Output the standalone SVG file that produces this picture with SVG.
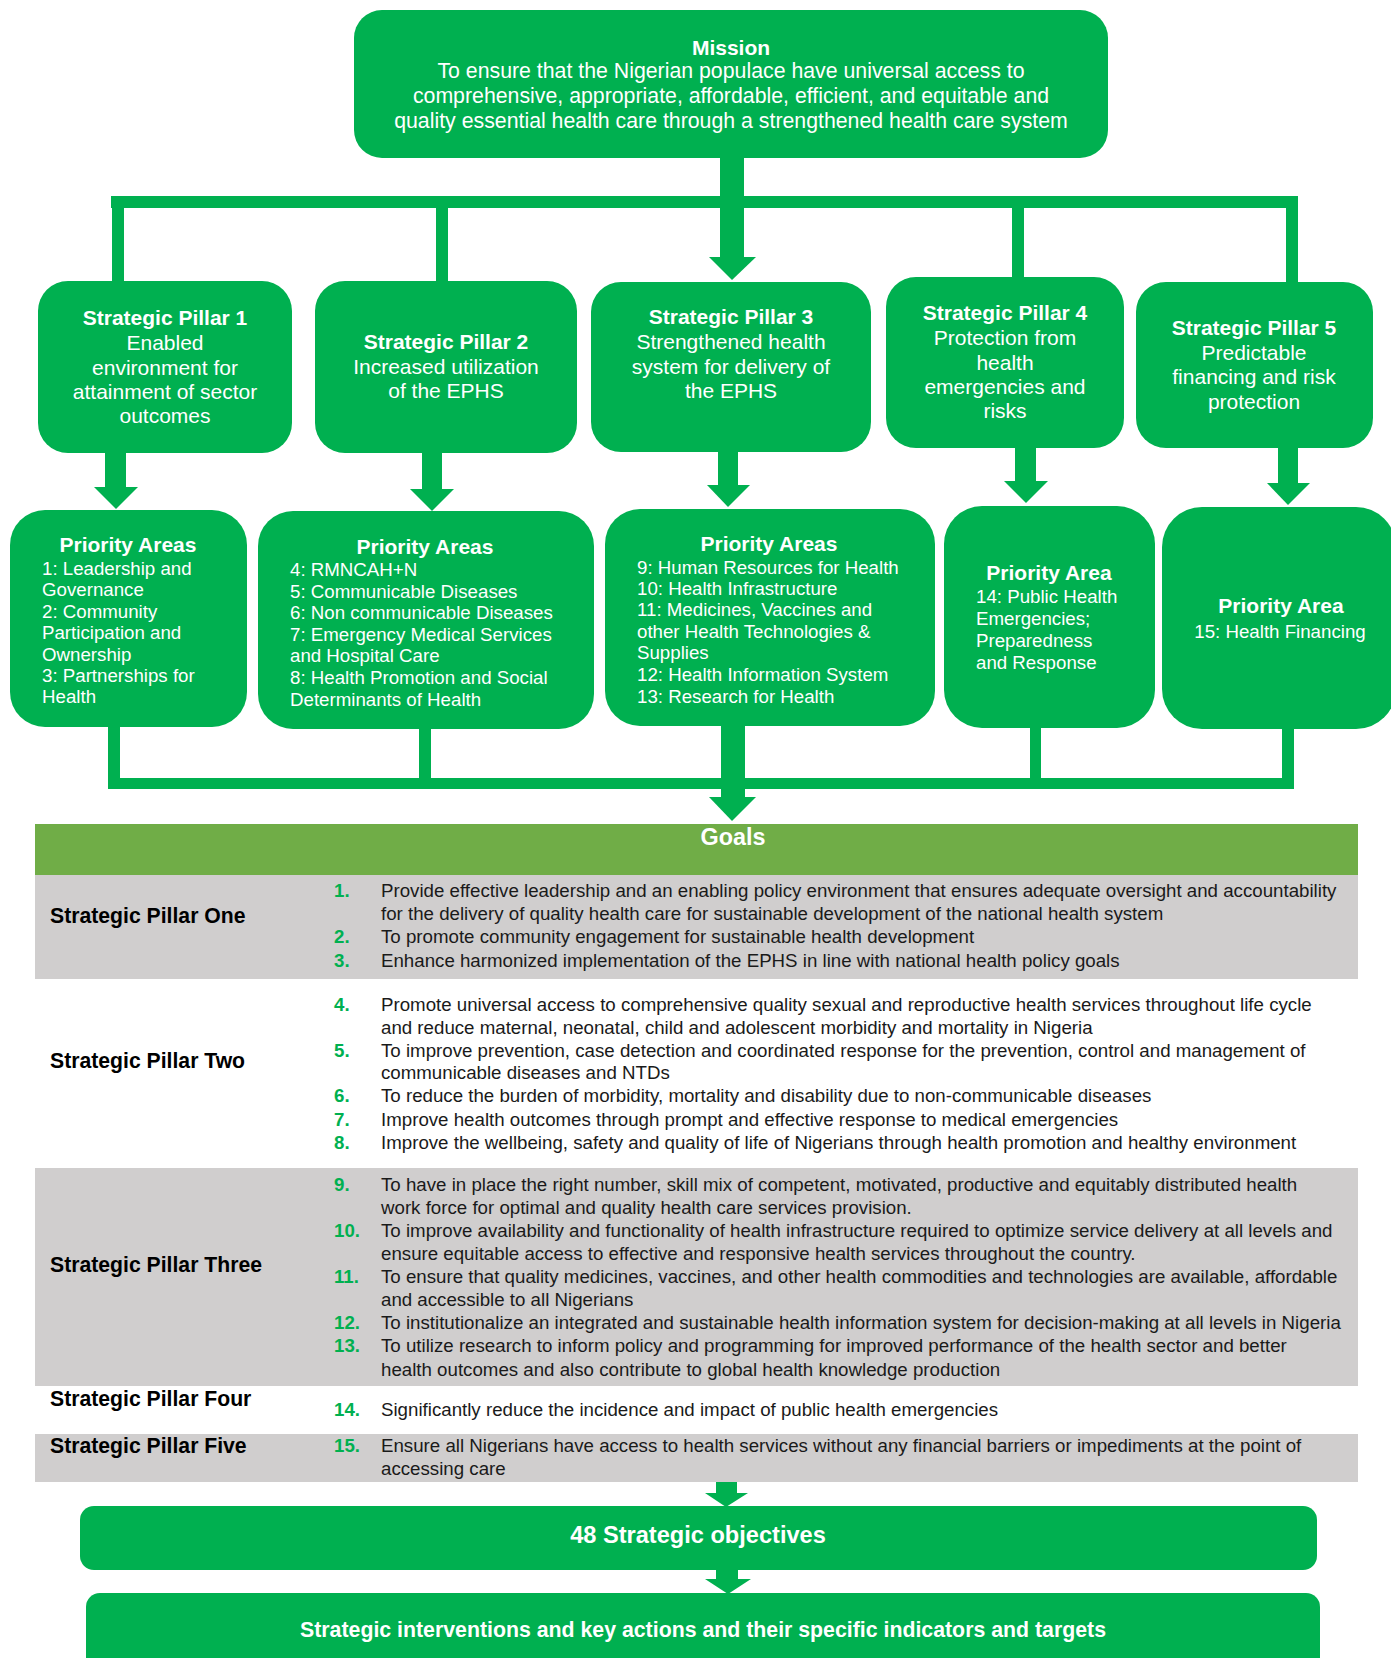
<svg xmlns="http://www.w3.org/2000/svg" width="1391" height="1658" viewBox="0 0 1391 1658">
<style>
  text { font-family: "Liberation Sans", Arial, sans-serif; }
  .box { fill: #00B050; }
  .con { fill: #00B050; }
  .w { fill: #ffffff; }
  .c { text-anchor: middle; }
  .h { font-size: 21px; font-weight: bold; }
  .n { font-size: 21px; }
  .m { font-size: 21.3px; }
  .s { font-size: 18.7px; }
  .num { fill: #00B050; font-size: 18.7px; font-weight: bold; }
  .gt { fill: #1a1a1a; font-size: 18.7px; }
  .pl { fill: #000000; font-size: 21.2px; font-weight: bold; }
  .gray { fill: #D0CECE; }
</style>

<!-- Connectors -->
<g id="connectors">
  <!-- top bracket -->
  <rect class="con" x="111" y="196" width="1187" height="12"/>
  <rect class="con" x="112" y="196" width="12" height="87"/>
  <rect class="con" x="436" y="196" width="12" height="87"/>
  <rect class="con" x="1012" y="196" width="12" height="83"/>
  <rect class="con" x="1286" y="196" width="12" height="88"/>
  <rect class="con" x="720" y="156" width="24" height="102"/>
  <polygon class="con" points="709,257 756,257 732,280"/>
  <!-- pillar to priority arrows -->
  <rect class="con" x="105" y="451" width="21" height="37"/>
  <polygon class="con" points="94,487 138,487 116,509"/>
  <rect class="con" x="422" y="451" width="20" height="39"/>
  <polygon class="con" points="410,489 454,489 432,511"/>
  <rect class="con" x="718" y="450" width="20" height="36"/>
  <polygon class="con" points="707,485 750,485 728,507"/>
  <rect class="con" x="1015" y="446" width="21" height="36"/>
  <polygon class="con" points="1004,481 1048,481 1026,503"/>
  <rect class="con" x="1278" y="446" width="20" height="38"/>
  <polygon class="con" points="1267,483 1310,483 1288,505"/>
  <!-- bottom bracket -->
  <rect class="con" x="108" y="778" width="1186" height="11"/>
  <rect class="con" x="108" y="725" width="12" height="64"/>
  <rect class="con" x="419" y="727" width="12" height="52"/>
  <rect class="con" x="1030" y="726" width="11" height="63"/>
  <rect class="con" x="1282" y="727" width="12" height="62"/>
  <rect class="con" x="721" y="724" width="24" height="74"/>
  <polygon class="con" points="709,797 756,797 732,821"/>
  <!-- table to objectives -->
  <rect class="con" x="716" y="1481" width="21" height="13"/>
  <polygon class="con" points="705,1493 748,1493 726,1507"/>
  <!-- objectives to interventions -->
  <rect class="con" x="716" y="1568" width="22" height="12"/>
  <polygon class="con" points="705,1579 751,1579 728,1594"/>
</g>

<!-- Mission -->
<g id="mission">
  <rect class="box" x="354" y="10" width="754" height="148" rx="28"/>
  <text class="w c h" x="731" y="55">Mission</text>
  <text class="w c m" x="731" y="78">To ensure that the Nigerian populace have universal access to</text>
  <text class="w c m" x="731" y="103">comprehensive, appropriate, affordable, efficient, and equitable and</text>
  <text class="w c m" x="731" y="128">quality essential health care through a strengthened health care system</text>
</g>

<!-- Pillars -->
<g id="pillar1">
  <rect class="box" x="38" y="281" width="254" height="172" rx="30"/>
  <text class="w c h" x="165" y="325">Strategic Pillar 1</text>
  <text class="w c n" x="165" y="350">Enabled</text>
  <text class="w c n" x="165" y="375">environment for</text>
  <text class="w c n" x="165" y="399">attainment of sector</text>
  <text class="w c n" x="165" y="423">outcomes</text>
</g>
<g id="pillar2">
  <rect class="box" x="315" y="281" width="262" height="172" rx="30"/>
  <text class="w c h" x="446" y="349">Strategic Pillar 2</text>
  <text class="w c n" x="446" y="374">Increased utilization</text>
  <text class="w c n" x="446" y="398">of the EPHS</text>
</g>
<g id="pillar3">
  <rect class="box" x="591" y="282" width="280" height="170" rx="30"/>
  <text class="w c h" x="731" y="324">Strategic Pillar 3</text>
  <text class="w c n" x="731" y="349">Strengthened health</text>
  <text class="w c n" x="731" y="374">system for delivery of</text>
  <text class="w c n" x="731" y="398">the EPHS</text>
</g>
<g id="pillar4">
  <rect class="box" x="886" y="277" width="238" height="171" rx="30"/>
  <text class="w c h" x="1005" y="320">Strategic Pillar 4</text>
  <text class="w c n" x="1005" y="345">Protection from</text>
  <text class="w c n" x="1005" y="370">health</text>
  <text class="w c n" x="1005" y="394">emergencies and</text>
  <text class="w c n" x="1005" y="418">risks</text>
</g>
<g id="pillar5">
  <rect class="box" x="1136" y="282" width="237" height="166" rx="30"/>
  <text class="w c h" x="1254" y="335">Strategic Pillar 5</text>
  <text class="w c n" x="1254" y="360">Predictable</text>
  <text class="w c n" x="1254" y="384">financing and risk</text>
  <text class="w c n" x="1254" y="409">protection</text>
</g>

<!-- Priority areas -->
<g id="priority1">
  <rect class="box" x="10" y="510" width="237" height="217" rx="35"/>
  <text class="w c h" x="128" y="552">Priority Areas</text>
  <text class="w s" x="42" y="575">1: Leadership and</text>
  <text class="w s" x="42" y="596">Governance</text>
  <text class="w s" x="42" y="618">2: Community</text>
  <text class="w s" x="42" y="639">Participation and</text>
  <text class="w s" x="42" y="661">Ownership</text>
  <text class="w s" x="42" y="682">3: Partnerships for</text>
  <text class="w s" x="42" y="703">Health</text>
</g>
<g id="priority2">
  <rect class="box" x="258" y="511" width="336" height="218" rx="35"/>
  <text class="w c h" x="425" y="554">Priority Areas</text>
  <text class="w s" x="290" y="576">4: RMNCAH+N</text>
  <text class="w s" x="290" y="598">5: Communicable Diseases</text>
  <text class="w s" x="290" y="619">6: Non communicable Diseases</text>
  <text class="w s" x="290" y="641">7: Emergency Medical Services</text>
  <text class="w s" x="290" y="662">and Hospital Care</text>
  <text class="w s" x="290" y="684">8: Health Promotion and Social</text>
  <text class="w s" x="290" y="706">Determinants of Health</text>
</g>
<g id="priority3">
  <rect class="box" x="605" y="509" width="330" height="217" rx="35"/>
  <text class="w c h" x="769" y="551">Priority Areas</text>
  <text class="w s" x="637" y="574">9: Human Resources for Health</text>
  <text class="w s" x="637" y="595">10: Health Infrastructure</text>
  <text class="w s" x="637" y="616">11: Medicines, Vaccines and</text>
  <text class="w s" x="637" y="638">other Health Technologies &amp;</text>
  <text class="w s" x="637" y="659">Supplies</text>
  <text class="w s" x="637" y="681">12: Health Information System</text>
  <text class="w s" x="637" y="703">13: Research for Health</text>
</g>
<g id="priority4">
  <rect class="box" x="944" y="506" width="211" height="222" rx="38"/>
  <text class="w c h" x="1049" y="580">Priority Area</text>
  <text class="w s" x="976" y="603">14: Public Health</text>
  <text class="w s" x="976" y="625">Emergencies;</text>
  <text class="w s" x="976" y="647">Preparedness</text>
  <text class="w s" x="976" y="669">and Response</text>
</g>
<g id="priority5">
  <rect class="box" x="1162" y="507" width="234" height="222" rx="40"/>
  <text class="w c h" x="1281" y="613">Priority Area</text>
  <text class="w c s" x="1280" y="638">15: Health Financing</text>
</g>

<!-- Goals table -->
<g id="goals">
  <rect x="35" y="824" width="1323" height="51" fill="#70AD47"/>
  <text class="w c" x="733" y="845" font-size="23.4" font-weight="bold">Goals</text>
  <rect class="gray" x="35" y="875" width="1323" height="104"/>
  <rect class="gray" x="35" y="1168" width="1323" height="218"/>
  <rect class="gray" x="35" y="1434" width="1323" height="48"/>

  <text class="pl" x="50" y="923">Strategic Pillar One</text>
  <text class="num" x="334" y="897">1.</text>
  <text class="gt" x="381" y="897">Provide effective leadership and an enabling policy environment that ensures adequate oversight and accountability</text>
  <text class="gt" x="381" y="920">for the delivery of quality health care for sustainable development of the national health system</text>
  <text class="num" x="334" y="943">2.</text>
  <text class="gt" x="381" y="943">To promote community engagement for sustainable health development</text>
  <text class="num" x="334" y="967">3.</text>
  <text class="gt" x="381" y="967">Enhance harmonized implementation of the EPHS in line with national health policy goals</text>

  <text class="pl" x="50" y="1068">Strategic Pillar Two</text>
  <text class="num" x="334" y="1011">4.</text>
  <text class="gt" x="381" y="1011">Promote universal access to comprehensive quality sexual and reproductive health services throughout life cycle</text>
  <text class="gt" x="381" y="1034">and reduce maternal, neonatal, child and adolescent morbidity and mortality in Nigeria</text>
  <text class="num" x="334" y="1057">5.</text>
  <text class="gt" x="381" y="1057">To improve prevention, case detection and coordinated response for the prevention, control and management of</text>
  <text class="gt" x="381" y="1079">communicable diseases and NTDs</text>
  <text class="num" x="334" y="1102">6.</text>
  <text class="gt" x="381" y="1102">To reduce the burden of morbidity, mortality and disability due to non-communicable diseases</text>
  <text class="num" x="334" y="1126">7.</text>
  <text class="gt" x="381" y="1126">Improve health outcomes through prompt and effective response to medical emergencies</text>
  <text class="num" x="334" y="1149">8.</text>
  <text class="gt" x="381" y="1149">Improve the wellbeing, safety and quality of life of Nigerians through health promotion and healthy environment</text>

  <text class="pl" x="50" y="1272">Strategic Pillar Three</text>
  <text class="num" x="334" y="1191">9.</text>
  <text class="gt" x="381" y="1191">To have in place the right number, skill mix of competent, motivated, productive and equitably distributed health</text>
  <text class="gt" x="381" y="1214">work force for optimal and quality health care services provision.</text>
  <text class="num" x="334" y="1237">10.</text>
  <text class="gt" x="381" y="1237">To improve availability and functionality of health infrastructure required to optimize service delivery at all levels and</text>
  <text class="gt" x="381" y="1260">ensure equitable access to effective and responsive health services throughout the country.</text>
  <text class="num" x="334" y="1283">11.</text>
  <text class="gt" x="381" y="1283">To ensure that quality medicines, vaccines, and other health commodities and technologies are available, affordable</text>
  <text class="gt" x="381" y="1306">and accessible to all Nigerians</text>
  <text class="num" x="334" y="1329">12.</text>
  <text class="gt" x="381" y="1329">To institutionalize an integrated and sustainable health information system for decision-making at all levels in Nigeria</text>
  <text class="num" x="334" y="1352">13.</text>
  <text class="gt" x="381" y="1352">To utilize research to inform policy and programming for improved performance of the health sector and better</text>
  <text class="gt" x="381" y="1376">health outcomes and also contribute to global health knowledge production</text>

  <text class="pl" x="50" y="1406">Strategic Pillar Four</text>
  <text class="num" x="334" y="1416">14.</text>
  <text class="gt" x="381" y="1416">Significantly reduce the incidence and impact of public health emergencies</text>

  <text class="pl" x="50" y="1453">Strategic Pillar Five</text>
  <text class="num" x="334" y="1452">15.</text>
  <text class="gt" x="381" y="1452">Ensure all Nigerians have access to health services without any financial barriers or impediments at the point of</text>
  <text class="gt" x="381" y="1475">accessing care</text>
</g>

<!-- Objectives -->
<g id="objectives">
  <rect class="box" x="80" y="1506" width="1237" height="64" rx="14"/>
  <text class="w c" x="698" y="1543" font-size="23.6" font-weight="bold">48 Strategic objectives</text>
</g>
<g id="interventions">
  <rect class="box" x="86" y="1593" width="1234" height="90" rx="14"/>
  <text class="w c" x="703" y="1637" font-size="21.3" font-weight="bold">Strategic interventions and key actions and their specific indicators and targets</text>
</g>
</svg>
